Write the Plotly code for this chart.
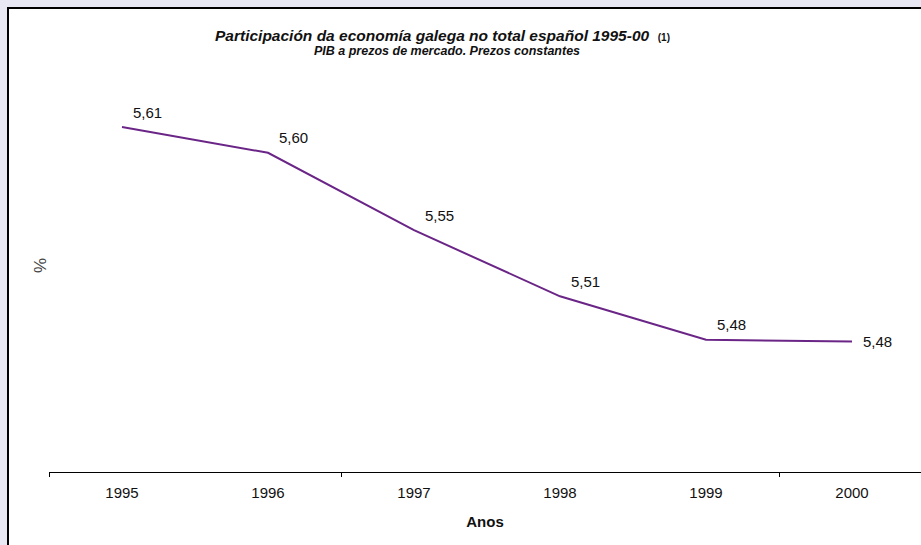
import plotly.graph_objects as go

years = ["1995", "1996", "1997", "1998", "1999", "2000"]
share = [5.614, 5.598, 5.550, 5.509, 5.482, 5.481]
label_shift_y = [15, 15, 15, 15, 15, 0]

W, H = 921, 545
ML, MR, MT, MB = 49, 0, 69, 73
pw = W - ML - MR
ph = H - MT - MB
FONT = "Liberation Sans, Arial, sans-serif"

def px_x(p):
    return (p - ML) / pw

def px_y(p):
    return (H - MB - p) / ph

xs = list(range(len(years)))

fig = go.Figure()
fig.add_trace(go.Scatter(
    x=xs, y=share, mode="lines",
    line=dict(color="#6a2587", width=2),
    hoverinfo="skip", showlegend=False,
))

annotations = []
for xi, v, dy in zip(xs, share, label_shift_y):
    annotations.append(dict(
        x=xi, y=v, xref="x", yref="y", showarrow=False,
        text=f"{v:.2f}".replace(".", ","),
        xanchor="left", yanchor="middle", xshift=9, yshift=dy,
        font=dict(family=FONT, size=15, color="#111111"),
    ))

annotations += [
    dict(xref="paper", yref="paper", x=px_x(442), y=px_y(35),
         xanchor="center", yanchor="middle", showarrow=False,
         text="<b><i>Participación da economía galega no total español 1995-00</i></b>  <b><span style='font-size:10px'>(1)</span></b>",
         font=dict(family=FONT, size=15.5)),
    dict(xref="paper", yref="paper", x=px_x(447), y=px_y(51),
         xanchor="center", yanchor="middle", showarrow=False,
         text="<b><i>PIB a prezos de mercado. Prezos constantes</i></b>",
         font=dict(family=FONT, size=12.5)),
    dict(xref="paper", yref="paper", x=px_x(40), y=px_y(266),
         xanchor="center", yanchor="middle", showarrow=False,
         text="%", textangle=-90, font=dict(family=FONT, size=17, color="#444444")),
]

fig.update_layout(
    width=W, height=H,
    margin=dict(l=ML, r=MR, t=MT, b=MB, pad=0),
    paper_bgcolor="#e8e8f4",
    plot_bgcolor="rgba(0,0,0,0)",
    font=dict(family=FONT, color="#111111"),
    xaxis=dict(
        range=[-0.5, -0.5 + pw / 146.0],
        tickvals=xs, ticktext=years,
        ticks="outside", ticklen=7, tickcolor="rgba(0,0,0,0)",
        showline=True, linecolor="black", linewidth=1,
        showgrid=False, zeroline=False,
        tickfont=dict(size=15),
        minor=dict(tickvals=[-0.5, 1.5, 4.5], ticks="outside", ticklen=4,
                   tickcolor="black", tickwidth=1, showgrid=False),
        title=dict(text="<b>Anos</b>", font=dict(size=15), standoff=16),
    ),
    yaxis=dict(range=[5.40, 5.65], visible=False),
    shapes=[dict(
        type="rect", xref="paper", yref="paper", layer="below",
        x0=px_x(8), x1=px_x(930), y0=px_y(560), y1=px_y(8),
        fillcolor="white", line=dict(color="black", width=2),
    )],
    annotations=annotations,
)

fig.write_html(
    "out.html",
    config={"displayModeBar": False},
    post_script="document.body.style.margin='0';document.body.style.padding='0';document.body.style.overflow='hidden';",
)
